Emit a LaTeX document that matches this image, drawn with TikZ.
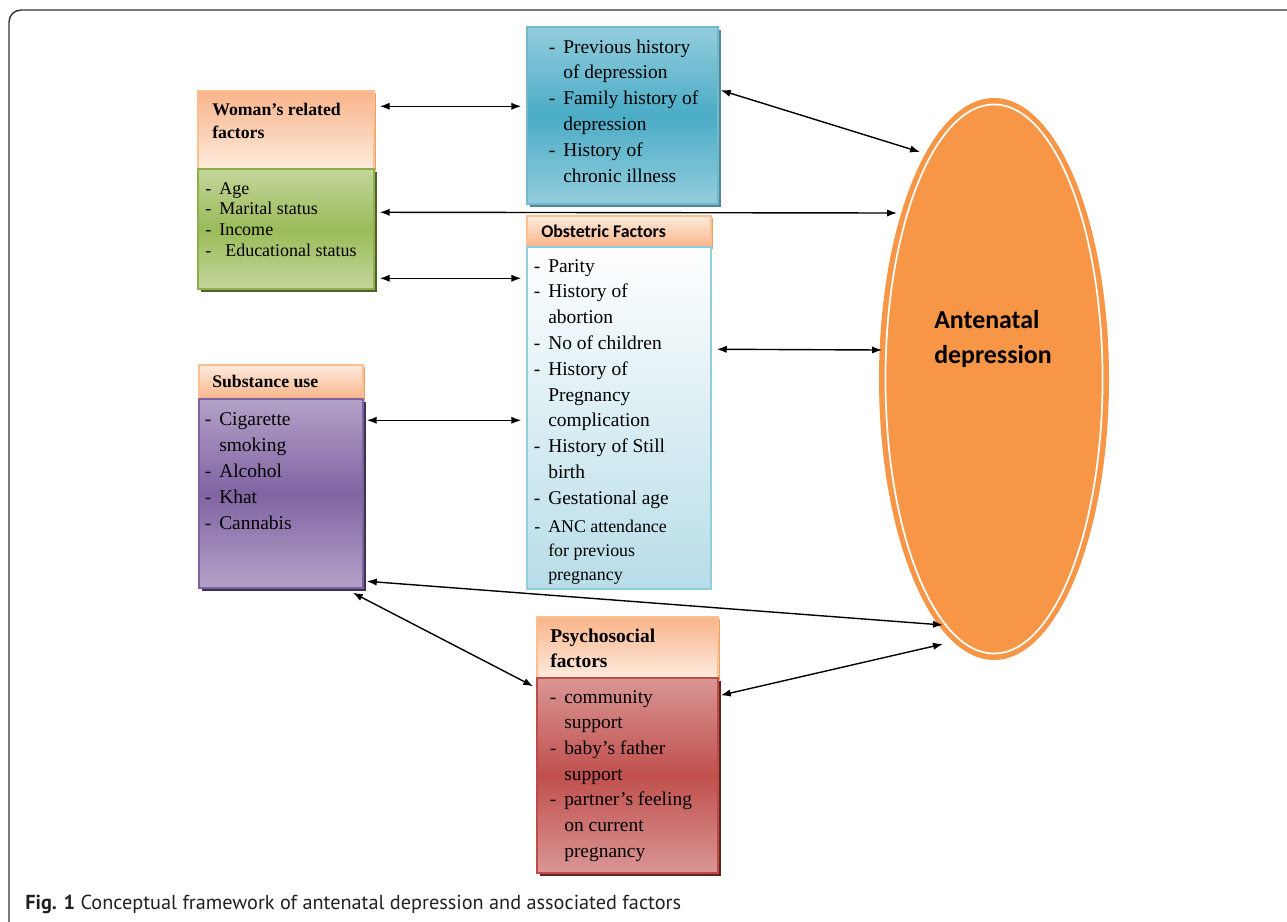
\documentclass[tikz,border=0pt]{standalone}
\usepackage{fontspec}
\setmainfont{Liberation Serif}
\newfontfamily\calfont{Carlito}
\newfontfamily\capfont{PT Sans}
\usetikzlibrary{arrows.meta,calc,fit,shadows,shapes.geometric}
\definecolor{hdrA}{HTML}{F9B48A}
\definecolor{hdrB}{HTML}{FDEBDD}
\definecolor{hdrBd}{HTML}{FAC090}
\definecolor{hdrSh}{HTML}{E9A06A}
\definecolor{grA}{HTML}{C3D69B}
\definecolor{grB}{HTML}{9BBB59}
\definecolor{grBd}{HTML}{8DB04C}
\definecolor{grSh}{HTML}{4F6228}
\definecolor{blA}{HTML}{93CDDD}
\definecolor{blB}{HTML}{4BACC6}
\definecolor{blBd}{HTML}{73B9CD}
\definecolor{blSh}{HTML}{4E8796}
\definecolor{obB}{HTML}{B7DDE8}
\definecolor{obBd}{HTML}{92CDDC}
\definecolor{puA}{HTML}{B3A2C7}
\definecolor{puB}{HTML}{8064A2}
\definecolor{puBd}{HTML}{7E62A0}
\definecolor{puSh}{HTML}{3F3151}
\definecolor{reA}{HTML}{D99694}
\definecolor{reB}{HTML}{C0504D}
\definecolor{reBd}{HTML}{BE4B48}
\definecolor{reSh}{HTML}{632523}
\definecolor{orE}{HTML}{F79646}
\definecolor{capc}{HTML}{231F20}
\newcommand\D{\llap{-\hspace{6pt}}}
\newcommand\boxlines[6]{%
  \foreach \t [count=\i] in {#6}{\node[lin,#2] (#1\i) at (#3,{#4+(\i-1)*#5}) {\t};}}
\begin{document}
\begin{tikzpicture}[x=0.75pt,y=-0.75pt,
  box/.style={rectangle, inner sep=0pt, line width=1.1pt},
  hdr/.style={box, draw=hdrBd, general shadow={fill=hdrSh, shadow xshift=1.5pt, shadow yshift=-1.5pt}},
  lin/.style={anchor=base west, inner sep=0pt, font=\fontsize{14.6}{17}\selectfont},
  small/.style={font=\fontsize{13.4}{16}\selectfont},
  wsmall/.style={font=\fontsize{13.5}{16}\selectfont},
  hbold/.style={font=\bfseries\fontsize{13.3}{16}\selectfont},
  pbold/.style={font=\bfseries\fontsize{14.6}{17}\selectfont},
  arr/.style={line width=1.05pt, >={Latex[length=7.5pt,width=5.5pt]}, <->}]
\useasboundingbox (0,0) rectangle (1287,921);
\begin{scope}
\clip (0,0) rectangle (1287,921);
\draw[line width=1.1pt, black!80, rounded corners=9pt] (9,10) rectangle (1330,940);
\end{scope}
% boxes
\node[hdr, top color=hdrA, bottom color=hdrB, fit={(198,91) (374,169)}] (WH) {};
\node[box, draw=grBd, top color=grA, bottom color=grA, middle color=grB,
  general shadow={fill=grSh, shadow xshift=2.25pt, shadow yshift=-2.25pt},
  fit={(198,169) (374,289)}] (WB) {};
\node[box, draw=blBd, top color=blA, bottom color=blA, middle color=blB,
  general shadow={fill=blSh, shadow xshift=2.25pt, shadow yshift=-2.25pt},
  fit={(527,27) (718,204)}] (BL) {};
\node[hdr, top color=hdrB, bottom color=hdrA, fit={(527,216) (711,247)}] (OH) {};
\node[box, draw=obBd, top color=white, bottom color=obB,
  fit={(527,247) (711,589)}] (OB) {};
\node[hdr, top color=hdrB, bottom color=hdrA, fit={(199,365) (363,399)}] (SH) {};
\node[box, draw=puBd, top color=puA, bottom color=puA, middle color=puB,
  general shadow={fill=puSh, shadow xshift=2.25pt, shadow yshift=-2.25pt},
  fit={(199,399) (363,588)}] (SB) {};
\node[hdr, top color=hdrA, bottom color=hdrB, fit={(537,617) (718,678)}] (PH) {};
\node[box, draw=reBd, top color=reA, bottom color=reA, middle color=reB,
  general shadow={fill=reSh, shadow xshift=2.25pt, shadow yshift=-2.25pt},
  fit={(537,678) (718,873)}] (PB) {};
% ellipse
\node[ellipse, fill=orE, inner sep=0pt, minimum width=172.5pt, minimum height=421.5pt] (E) at (994,379) {};
\draw[white, line width=1.3pt] (E.center) ellipse [x radius=81.4pt, y radius=205.9pt];
% texts
\boxlines{wh}{hbold}{212}{115}{23}{Woman’s related,factors}
\boxlines{wb}{wsmall}{219}{194}{20.7}{\D Age,\D Marital status,\D Income,\D\hspace{4.5pt}Educational status}
\boxlines{bl}{}{563}{53}{25.8}{\D Previous history,of depression,\D Family history of,depression,\D History of,chronic illness}
\node[lin, font=\calfont\bfseries\fontsize{13.4}{16}\selectfont] (oh1) at (541,237) {Obstetric Factors};
\boxlines{ob}{}{548}{272}{25.8}{\D Parity,\D History of,abortion,\D No of children,\D History of,Pregnancy,complication,\D History of Still,birth,\D Gestational age}
\boxlines{oc}{small}{548}{532}{24}{\D ANC attendance,for previous,pregnancy}
\boxlines{sh}{hbold}{212}{387}{23}{Substance use}
\boxlines{sb}{}{219}{425}{26}{\D Cigarette,smoking,\D Alcohol,\D Khat,\D Cannabis}
\boxlines{ph}{pbold}{550}{642}{25}{Psychosocial,factors}
\boxlines{pb}{}{564}{703}{25.7}{\D community,support,\D baby’s father,support,\D partner’s feeling,on current,pregnancy}
\boxlines{et}{font=\calfont\bfseries\fontsize{19.4}{23}\selectfont}{934}{328}{35}{Antenatal,depression}
% arrows
\draw[arr] ($(WH.north east)+(5,16)$) -- ($(BL.north west)+(-5,80)$);
\draw[arr] ($(BL.north east)+(2,64)$) -- ($(E.center)+(-74,-227)$);
\draw[arr] ($(WB.north east)+(5,44)$) -- ($(E.center)+(-97,-166)$);
\draw[arr] ($(WB.north east)+(5,110)$) -- ($(OB.north west)+(-5,32)$);
\draw[arr] ($(OB.north east)+(5,103)$) -- ($(E.center)+(-112,-29)$);
\draw[arr] ($(SB.north east)+(3,22)$) -- ($(OB.north west)+(-5,174)$);
\draw[arr] ($(SB.north east)+(3,183)$) -- ($(E.center)+(-51,246)$);
\draw[arr] ($(SB.south east)+(-11,4)$) -- ($(PB.north west)+(-3,9)$);
\draw[arr] ($(PB.north east)+(2,18)$) -- ($(E.center)+(-51,265)$);
% caption
\node[anchor=base west, inner sep=0pt, text=capc, font=\capfont\fontsize{15.2}{18}\selectfont] (cap) at (25,909) {\textbf{Fig. 1} Conceptual framework of antenatal depression and associated factors};
\end{tikzpicture}
\end{document}
